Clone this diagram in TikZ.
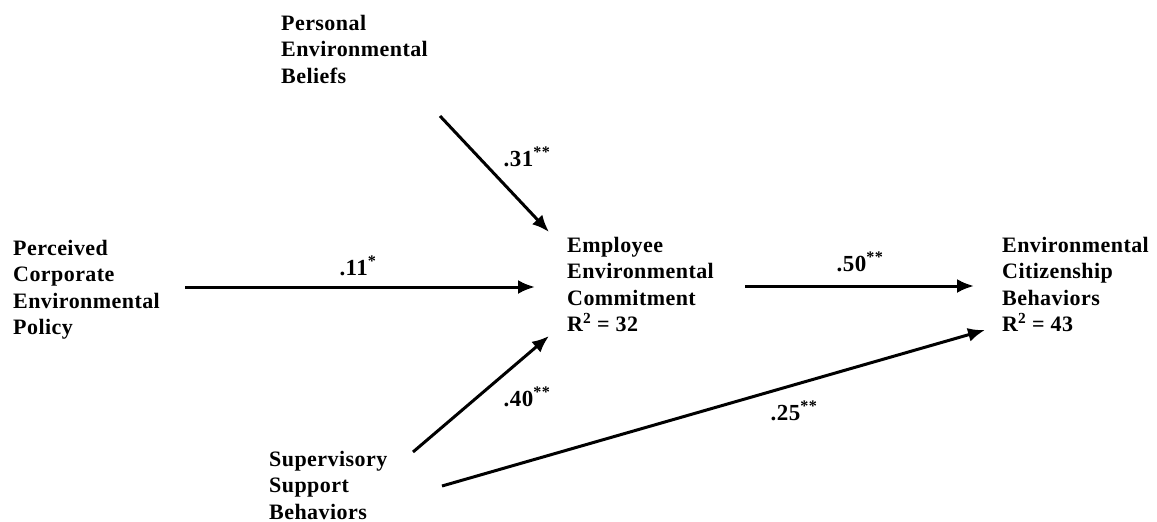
\documentclass[tikz,border=0pt]{standalone}
\usepackage{fontspec}
\setmainfont{Liberation Serif}[LetterSpace=2]
\usetikzlibrary{arrows.meta}
\tikzset{
  var/.style={anchor=north west, inner sep=0pt, align=left,
    font=\fontsize{22}{26.3}\selectfont\bfseries},
  coef/.style={inner sep=0pt, font=\fontsize{23}{26}\selectfont\bfseries},
  path/.style={line width=3pt, -{Latex[length=17pt,width=14pt]}}
}
\begin{document}
\begin{tikzpicture}[x=1pt,y=-1pt]
\useasboundingbox (0,0) rectangle (1157,522);
% variables
\node[var] (peb) at (281,15) {Personal\\Environmental\\Beliefs};
\node[var] (pcep) at (13,240) {Perceived\\Corporate\\Environmental\\Policy};
\node[var] (eec) at (567,237) {Employee\\Environmental\\Commitment\\R\textsuperscript{2} = 32};
\node[var] (ecb) at (1002,237) {Environmental\\Citizenship\\Behaviors\\R\textsuperscript{2} = 43};
\node[var] (ssb) at (269,451) {Supervisory\\Support\\Behaviors};
% arrow end points
\coordinate (a1s) at (440,116); \coordinate (a1e) at (549,232);
\coordinate (a2s) at (185,287); \coordinate (a2e) at (535,287);
\coordinate (a3s) at (745,286); \coordinate (a3e) at (974,286);
\coordinate (a4s) at (413,452); \coordinate (a4e) at (549,336);
\coordinate (a5s) at (442,486); \coordinate (a5e) at (985,330);
\draw[path] (a1s) -- (a1e);
\draw[path] (a2s) -- (a2e);
\draw[path] (a3s) -- (a3e);
\draw[path] (a4s) -- (a4e);
\draw[path] (a5s) -- (a5e);
% coefficients
\node[coef] (c1) at (527,157) {.31\textsuperscript{**}};
\node[coef] (c2) at (358,266) {.11\textsuperscript{*}};
\node[coef] (c3) at (860,262) {.50\textsuperscript{**}};
\node[coef] (c4) at (527,397) {.40\textsuperscript{**}};
\node[coef] (c5) at (794,411) {.25\textsuperscript{**}};
\end{tikzpicture}
\end{document}
